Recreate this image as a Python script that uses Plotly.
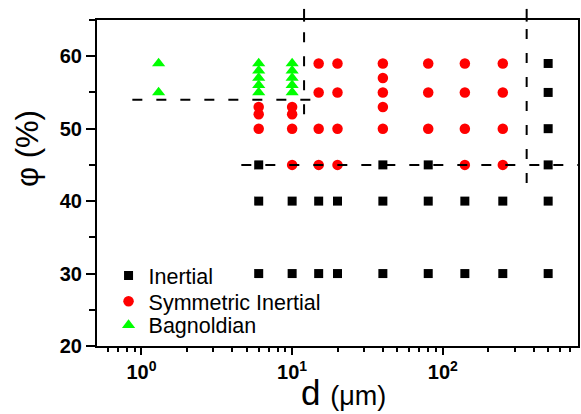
import plotly.graph_objects as go

# ---- data ----
inertial_d = [6, 6, 6, 10, 10, 15, 15, 20, 20, 40, 40, 40, 80, 80, 80,
              140, 140, 250, 250, 500, 500, 500, 500, 500, 500]
inertial_phi = [45, 40, 30, 40, 30, 40, 30, 40, 30, 45, 40, 30, 45, 40, 30,
                40, 30, 40, 30, 59, 55, 50, 45, 40, 30]

sym_d = [6, 6, 6, 10, 10, 10, 10, 15, 15, 15, 15, 20, 20, 20, 20,
         40, 40, 40, 40, 40, 80, 80, 80, 140, 140, 140, 140, 250, 250, 250, 250]
sym_phi = [53, 52, 50, 53, 52, 50, 45, 59, 55, 50, 45, 59, 55, 50, 45,
           59, 57, 55, 53, 50, 59, 55, 50, 59, 55, 50, 45, 59, 55, 50, 45]

bag_d = [1.3, 1.3, 6, 6, 6, 6, 6, 10, 10, 10, 10, 10]
bag_phi = [59, 55, 59, 58, 57, 56, 55, 59, 58, 57, 56, 55]

# regime boundaries (dashed)
h1_phi, h1_d = 54, [0.87, 16]
v1_d, v1_phi = 12, 52
h2_phi, h2_d = 45, [4.6, 800]
v2_d, v2_phi = 360, 42.5

x_ticks = [1, 10, 100]
x_ticktext = ["10<sup>0</sup>", "10<sup>1</sup>", "10<sup>2</sup>"]
y_ticks = [20, 30, 40, 50, 60]

FONT = "Arial, Liberation Sans, sans-serif"

fig = go.Figure()
fig.add_trace(go.Scatter(x=inertial_d, y=inertial_phi, mode="markers", name="Inertial",
                         legend="legend",
                         marker=dict(symbol="square", size=9, color="#000000", line=dict(width=0))))
fig.add_trace(go.Scatter(x=sym_d, y=sym_phi, mode="markers", name="Symmetric Inertial",
                         legend="legend2",
                         marker=dict(symbol="circle", size=10.5, color="#FF0000", line=dict(width=0))))
fig.add_trace(go.Scatter(x=bag_d, y=bag_phi, mode="markers", name="Bagnoldian",
                         legend="legend3",
                         marker=dict(symbol="triangle-up", size=11.5, color="#00FF00", line=dict(width=0))))

dash = dict(color="black", width=2, dash="10px,14px")
fig.add_shape(type="line", xref="x", yref="y", x0=h1_d[0], x1=h1_d[1], y0=h1_phi, y1=h1_phi, line=dash)
fig.add_shape(type="line", xref="x", yref="y", x0=h2_d[0], x1=h2_d[1], y0=h2_phi, y1=h2_phi, line=dash)
for vd, vphi in [(v1_d, v1_phi), (v2_d, v2_phi)]:
    fig.add_shape(type="line", xref="x", yref="y", x0=vd, x1=vd, y0=vphi, y1=65, line=dash)
    fig.add_shape(type="line", xref="x", yref="paper", x0=vd, x1=vd, y0=0.995, y1=1.034,
                  line=dict(color="black", width=2))

fig.add_annotation(text="φ (%)", xref="paper", yref="paper", x=-0.143, y=0.605,
                   textangle=-90, showarrow=False, xanchor="center", yanchor="middle",
                   font=dict(family=FONT, size=31, color="black"))
fig.add_annotation(text="d <span style='font-size:27px'>(μm)</span>", xref="paper", yref="paper",
                   x=0.512, y=-0.142, showarrow=False, xanchor="center", yanchor="middle",
                   font=dict(family=FONT, size=35, color="black"))

minor_x = [m * 10 ** e for e in (-1, 0, 1, 2) for m in range(2, 10)]

fig.update_xaxes(type="log", range=[-0.295, 2.897],
                 tickmode="array", tickvals=x_ticks, ticktext=x_ticktext,
                 ticks="outside", ticklen=7, tickwidth=2, tickcolor="black",
                 minor=dict(tickmode="array", tickvals=minor_x, ticks="outside", ticklen=4,
                            tickwidth=2, tickcolor="black"),
                 showline=True, linewidth=2, linecolor="black", mirror=True,
                 showgrid=False, zeroline=False,
                 tickfont=dict(family=FONT, size=20, color="black", weight="bold"))
fig.update_yaxes(range=[20, 65], tickmode="array", tickvals=y_ticks,
                 ticks="outside", ticklen=9, tickwidth=2, tickcolor="black",
                 minor=dict(dtick=5, ticks="outside", ticklen=6, tickwidth=2, tickcolor="black"),
                 showline=True, linewidth=2, linecolor="black", mirror=True,
                 showgrid=False, zeroline=False,
                 tickfont=dict(family=FONT, size=20, color="black", weight="bold"))

leg_common = dict(x=0.024, xanchor="left", yanchor="top", bgcolor="rgba(0,0,0,0)",
                  borderwidth=0, font=dict(family=FONT, size=21.5, color="black"))
fig.update_layout(width=581, height=414, margin=dict(l=97, r=1, t=20, b=68),
                  paper_bgcolor="white", plot_bgcolor="white",
                  showlegend=True,
                  legend=dict(y=0.279, **leg_common),
                  legend2=dict(y=0.200, **leg_common),
                  legend3=dict(y=0.127, **leg_common))

fig.write_html("out.html")
